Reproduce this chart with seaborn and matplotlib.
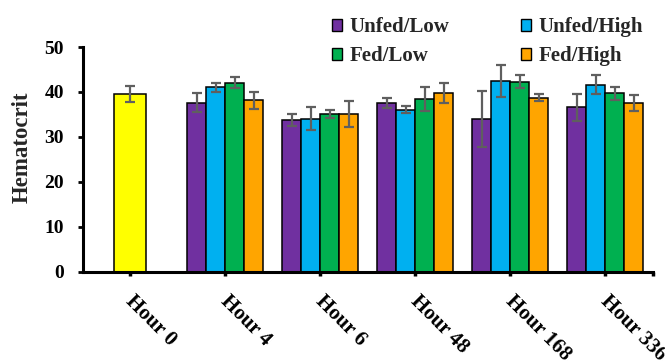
import matplotlib
matplotlib.use("Agg")
import matplotlib.pyplot as plt
import matplotlib.transforms as mtransforms
import seaborn as sns
import pandas as pd
import numpy as np
from matplotlib.patches import Patch

hours = ["Hour 0", "Hour 4", "Hour 6", "Hour 48", "Hour 168", "Hour 336"]
groups = ["Unfed/Low", "Unfed/High", "Fed/Low", "Fed/High"]
colors = ["#7030A0", "#00B0F0", "#00B050", "#FFA500"]

baseline_value = 39.5
baseline_err = 1.8

unfed_low = [37.6, 33.7, 37.6, 34.0, 36.6]
unfed_high = [41.0, 34.1, 36.1, 42.4, 41.6]
fed_low = [42.1, 35.1, 38.4, 42.3, 39.7]
fed_high = [38.2, 35.2, 39.8, 38.7, 37.6]

unfed_low_err = [2.1, 1.3, 1.1, 6.3, 3.0]
unfed_high_err = [1.0, 2.6, 0.75, 3.6, 2.15]
fed_low_err = [1.2, 0.9, 2.7, 1.45, 1.5]
fed_high_err = [1.9, 2.9, 2.2, 0.8, 1.8]

sns.set_theme(style="ticks")
plt.rcParams["font.family"] = ["Liberation Serif", "DejaVu Serif"]
plt.rcParams["font.weight"] = "bold"

rows = []
vals = [unfed_low, unfed_high, fed_low, fed_high]
errs = [unfed_low_err, unfed_high_err, fed_low_err, fed_high_err]
for g, v, e in zip(groups, vals, errs):
    for h, vv, ee in zip(hours[1:], v, e):
        rows.append({"hour": h, "group": g, "value": vv, "err": ee})
df = pd.DataFrame(rows)
df0 = pd.DataFrame({"hour": [hours[0]], "value": [baseline_value], "err": [baseline_err]})

fig = plt.figure(figsize=(6.65, 3.62), dpi=100)
ax = fig.add_axes([0.1244, 0.2494, 0.857, 0.6206])

sns.barplot(data=df, x="hour", y="value", hue="group", order=hours, hue_order=groups,
            palette=colors, width=0.8, errorbar=None, edgecolor="black", linewidth=1.1,
            saturation=1, ax=ax, legend=False)
grouped_conts = list(ax.containers)
sns.barplot(data=df0, x="hour", y="value", order=hours, color="#FFFF00", width=0.34,
            errorbar=None, edgecolor="black", linewidth=1.1, saturation=1, ax=ax)
base_conts = [c for c in ax.containers if c not in grouped_conts]


def add_err(p, e):
    xc = p.get_x() + p.get_width() / 2
    ax.errorbar(xc, p.get_height(), yerr=e, color="#5F5F5F", elinewidth=1.6,
                capsize=3.5, capthick=1.6, zorder=5)


# grouped bars: one container per hue level, bars ordered by category position
for gi, cont in enumerate(grouped_conts):
    bars = [p for p in cont.patches if np.isfinite(p.get_height()) and p.get_height() > 0]
    bars.sort(key=lambda p: p.get_x())
    for p, e in zip(bars, errs[gi]):
        add_err(p, e)
for cont in base_conts:
    for p in cont.patches:
        if np.isfinite(p.get_height()) and p.get_height() > 0:
            add_err(p, baseline_err)

ax.set_xlim(-0.5, 5.5)
ax.set_ylim(0, 50)
ax.set_yticks([0, 10, 20, 30, 40, 50])
ax.set_xlabel("")
ax.set_ylabel("Hematocrit", fontsize=16.5, fontweight="bold")
ax.yaxis.set_label_coords(-0.088, 0.552)
for s in ["top", "right"]:
    ax.spines[s].set_visible(False)
for s in ["left", "bottom"]:
    ax.spines[s].set_linewidth(2.2)
    ax.spines[s].set_color("black")
ax.tick_params(axis="y", direction="out", length=3.5, width=2, labelsize=14, pad=10, colors="black")
ax.tick_params(axis="x", which="both", direction="out", length=3, width=2.5, labelsize=15,
               pad=6, colors="black")
ax.set_xticks(range(len(hours)))
ax.set_xticks([5.5], minor=True)
ax.set_xticklabels(hours, rotation=-45, ha="left", va="top", rotation_mode="anchor",
                   fontweight="bold")
shift = mtransforms.ScaledTranslation(5 / 100, -7 / 100, fig.dpi_scale_trans)
for lab in ax.get_xticklabels():
    lab.set_transform(lab.get_transform() + shift)
for lab in ax.get_yticklabels():
    lab.set_fontweight("bold")
ax.grid(False)

handles = [Patch(facecolor=c, edgecolor="black", linewidth=1.0) for c in colors]
order = [0, 2, 1, 3]
fig.legend([handles[i] for i in order], [groups[i] for i in order], ncol=2,
           loc="upper left", bbox_to_anchor=(0.499, 0.953), frameon=False,
           prop={"family": "Liberation Serif", "weight": "bold", "size": 15},
           handlelength=0.5, handleheight=0.5, handletextpad=0.33,
           columnspacing=3.45, labelspacing=0.45, borderaxespad=0, borderpad=0)

fig.savefig("out.png", dpi=100)
